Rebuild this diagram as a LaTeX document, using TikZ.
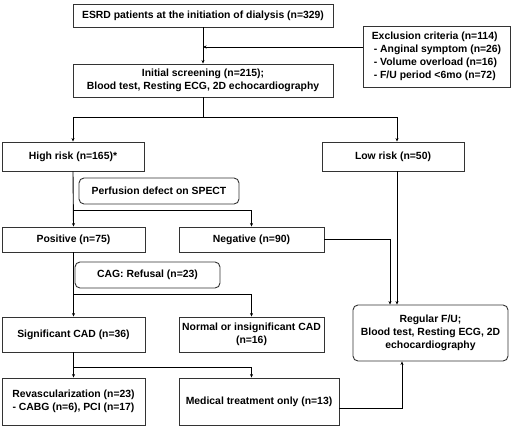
\documentclass[tikz,border=0pt]{standalone}
\usepackage{fontspec}
\setmainfont{Liberation Sans}
\usetikzlibrary{arrows.meta}
\begin{document}
\begin{tikzpicture}[x=1pt, y=-1pt, line width=0.9pt, >={Stealth[length=3.5pt,width=3pt]},
  font=\fontsize{10.4}{13}\selectfont\bfseries,
  box/.style = {draw=black!80, line width=0.9pt, align=center, inner sep=1pt},
  rbox/.style = {box, rounded corners=5pt}]
\useasboundingbox (0,0) rectangle (529,426);

\node[box, minimum width=260, minimum height=23] (esrd) at (203,15.5) {ESRD patients at the initiation of dialysis (n=329)};
\node[box, minimum width=147, minimum height=61, align=left] (excl) at (436.5,56.5) {Exclusion criteria (n=114)\\\hspace{2pt}- Anginal symptom (n=26)\\\hspace{2pt}- Volume overload (n=16)\\\hspace{2pt}- F/U period <6mo (n=72)};
\node[box, minimum width=260, minimum height=33] (init) at (203,80.5) {Initial screening (n=215);\\Blood test, Resting ECG, 2D echocardiography};
\node[box, minimum width=142, minimum height=29] (high) at (73,156.5) {High risk (n=165)*};
\node[box, minimum width=142, minimum height=29] (low) at (393,156.5) {Low risk (n=50)};
\node[rbox, minimum width=160, minimum height=26] (spect) at (159,191) {Perfusion defect on SPECT};
\node[box, minimum width=143, minimum height=25] (pos) at (73.5,239.5) {Positive (n=75)};
\node[box, minimum width=145, minimum height=25] (neg) at (251.5,239.5) {Negative (n=90)};
\node[rbox, minimum width=145, minimum height=26] (cag) at (147.5,275) {CAG: Refusal (n=23)};
\node[box, minimum width=143, minimum height=35] (sig) at (73.5,334.5) {Significant CAD (n=36)};
\node[box, minimum width=145, minimum height=35] (norm) at (251.5,334.5) {Normal or insignificant CAD\\(n=16)};
\node[rbox, minimum width=155, minimum height=56] (reg) at (430.5,333) {Regular F/U;\\Blood test, Resting ECG, 2D\\echocardiography};
\node[box, minimum width=143, minimum height=47] (rev) at (73.5,401.5) {Revascularization (n=23)\\- CABG (n=6), PCI (n=17)};
\node[box, minimum width=160, minimum height=47] (med) at (259,401.5) {Medical treatment only (n=13)};

\coordinate (j1) at (203,47);
\draw[->] (esrd) -- (init);
\draw[->] (excl.west |- j1) -- (j1);

\draw (init.south) -- ++(0,20) coordinate (b1);
\draw[->] (b1) -| (high.north);
\draw[->] (b1) -| ([xshift=4]low.north);

\draw[->] (high.south) -- (pos.north);
\draw[->] (high.south |- 0,210) -| (neg.north);
\draw[->] (pos.south) -- (sig.north);
\draw[->] (pos.south |- 0,294) -| (norm.north);
\draw[->] (sig.south) -- (rev.north);
\draw[->] (sig.south |- 0,367) -| (norm.south |- med.north);

\draw[->] (neg.east) -| ([xshift=-40.5]reg.north);
\draw[->] ([xshift=-33.5]reg.north |- low.south) -- ([xshift=-33.5]reg.north);
\draw[->] ([yshift=-6.5]med.east) -| ([xshift=-28.5]reg.south);
\end{tikzpicture}
\end{document}
